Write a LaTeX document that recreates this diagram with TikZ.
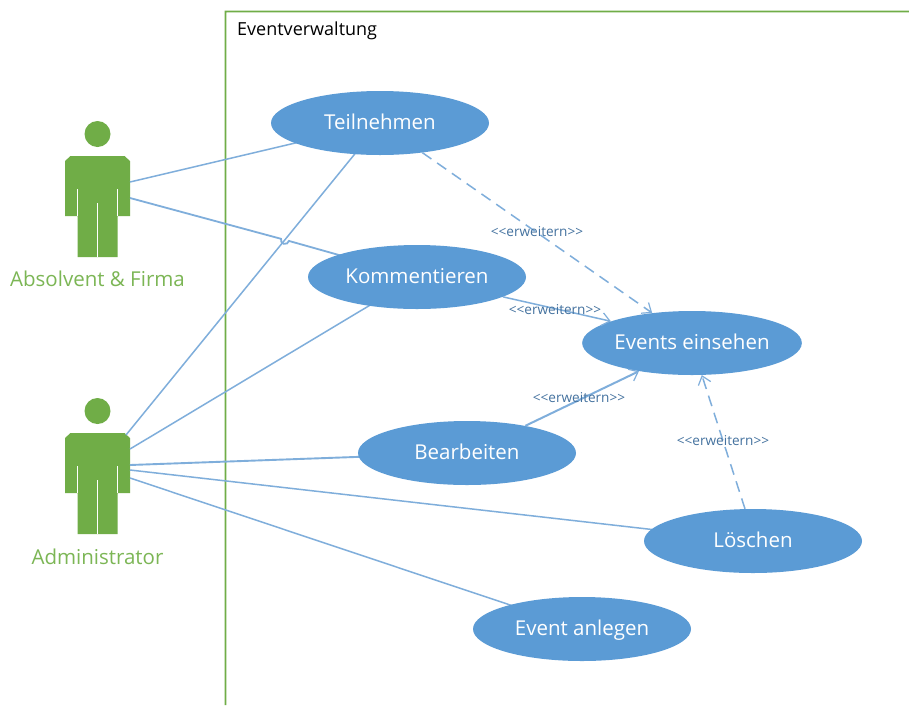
\documentclass[tikz,border=0pt]{standalone}
\usepackage{fontspec}
\setmainfont{Open Sans}
\usetikzlibrary{arrows.meta,shapes.geometric}
\definecolor{ublue}{HTML}{5B9BD5}
\definecolor{ugreen}{HTML}{70AD47}
\definecolor{lgreen}{HTML}{7CB655}
\definecolor{uline}{HTML}{7FAEDB}
\definecolor{ulab}{HTML}{44729F}
\tikzset{
  usecase/.style={ellipse,fill=ublue,text=white,minimum width=218pt,minimum height=64pt,inner sep=0pt,text height=13pt,text depth=1pt,font=\fontsize{20.5}{24}\selectfont},
  assoc/.style={draw=uline,line width=1.5pt},
  ext/.style={draw=uline,line width=1.5pt,-{Straight Barb[length=8pt,width=13pt,line width=1.2pt]}},
  extdash/.style={ext,dash pattern=on 11pt off 7pt},
  extlab/.style={text=ulab,font=\fontsize{13.6}{15}\selectfont,inner sep=0pt},
  actorlab/.style={text=lgreen,font=\fontsize{20.5}{24}\selectfont,inner sep=0pt},
  actorpart/.style={fill=ugreen,draw=none},
  actorgap/.style={draw=white,line width=1.4pt}
}
\newcommand{\drawactor}[2]{%
  \begin{scope}[shift={(#1,#2)}]
    \fill[actorpart] (0,-22) circle (13);
    \fill[actorpart] (-27,0) -- (27,0) -- (32.5,5) -- (32.5,60) -- (20,60) -- (20,101) -- (-20,101) -- (-20,60) -- (-32.5,60) -- (-32.5,5) -- cycle;
    \draw[actorgap] (-20,33) -- (-20,60);
    \draw[actorgap] (20,33) -- (20,60);
    \draw[actorgap] (0,47) -- (0,101);
  \end{scope}}
\begin{document}
\begin{tikzpicture}[x=1pt,y=-1pt]
\useasboundingbox (0,0) rectangle (909,705);
\fill[white] (0,0) rectangle (909,705);
% system frame
\fill[ugreen] (224.5,705) -- (224.5,10.5) -- (909,10.5) -- (909,12.3) -- (226.3,12.3) -- (226.3,705) -- cycle;
\node[anchor=west,inner sep=0pt,font=\fontsize{18}{21}\selectfont] (title) at (237,31) {Eventverwaltung};
% actors
\drawactor{97.5}{156}
\drawactor{97.5}{433}
\node[actorlab] (a1) at (97.5,279) {Absolvent \& Firma};
\node[actorlab] (a2) at (97.5,557) {Administrator};
% connector ends at the actors
\coordinate (p1) at (130,182);
\coordinate (p2) at (130,198);
\coordinate (q1) at (126,435);
\coordinate (q2) at (130,449);
\coordinate (q3) at (130,465);
\coordinate (q4) at (130,470);
\coordinate (q5) at (130,478);
\coordinate (hopa) at (281,238.8);
% associations
\draw[assoc] (p1) -- (380,123) coordinate (tc);
\draw[assoc] (q1) -- (tc);
\draw[assoc,line width=1.8pt] (p2) -- (hopa) arc[start angle=195,end angle=15,radius=4.1] -- (417,277) coordinate (kc);
\draw[assoc] (q2) -- (kc);
\draw[assoc,line width=1.9pt] (q3) -- (467,453) coordinate (bc);
\draw[assoc] (q4) -- (753,541) coordinate (lc);
\draw[assoc] (q5) -- (582,629) coordinate (ec);
% use cases
\node[usecase] (teil) at (tc) {Teilnehmen};
\node[usecase] (komm) at (kc) {Kommentieren};
\node[usecase] (einseh) at (692,343) {Events einsehen};
\node[usecase] (bearb) at (bc) {Bearbeiten};
\node[usecase] (loesch) at (lc) {Löschen};
\node[usecase] (anleg) at (ec) {Event anlegen};
% extend relations
\draw[extdash] (teil.-35.5) -- (einseh.143);
\draw[ext] (komm.-13.2) -- (einseh.165.6);
\draw[ext,line width=2pt] (bearb.25) -- (einseh.-152.6);
\draw[extdash] (loesch.104) -- (einseh.-73);
\node[extlab] (l1) at (537,232) {<{}<erweitern>{}>};
\node[extlab] (l2) at (555,310) {<{}<erweitern>{}>};
\node[extlab] (l3) at (579,398) {<{}<erweitern>{}>};
\node[extlab] (l4) at (723,441) {<{}<erweitern>{}>};
\end{tikzpicture}
\end{document}
